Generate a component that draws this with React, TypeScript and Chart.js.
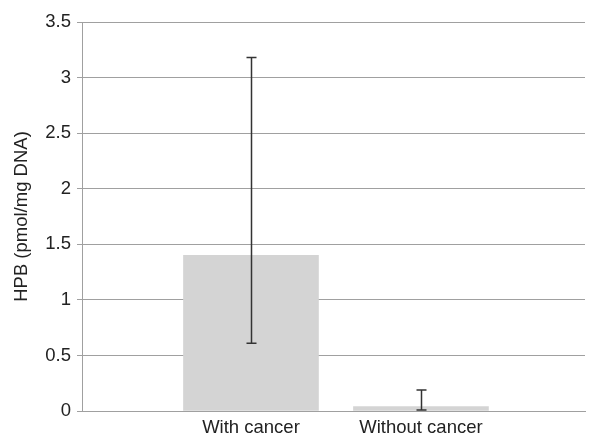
import React, { useEffect, useRef } from "react";
import { Chart, registerables } from "chart.js";

Chart.register(...registerables);

const categories = ["With cancer", "Without cancer"];
const means = [1.4, 0.04];
const errLow = [0.61, 0.01];
const errHigh = [3.18, 0.19];
const yTicks = [0, 0.5, 1, 1.5, 2, 2.5, 3, 3.5];

const FONT = "Liberation Sans, Arial, Helvetica";

const errorBarPlugin = {
  id: "errorBars",
  afterDatasetsDraw(chart: any) {
    const ctx = chart.ctx;
    const xs = chart.scales.x;
    const ys = chart.scales.y;
    ctx.save();
    ctx.strokeStyle = "#333";
    ctx.lineWidth = 1.5;
    for (let i = 0; i < categories.length; i++) {
      const x = Math.round(xs.getPixelForValue(i)) + 0.5;
      const y1 = ys.getPixelForValue(errLow[i]);
      const y2 = ys.getPixelForValue(errHigh[i]);
      ctx.beginPath();
      ctx.moveTo(x, y1);
      ctx.lineTo(x, y2);
      ctx.moveTo(x - 5, y1);
      ctx.lineTo(x + 5, y1);
      ctx.moveTo(x - 5, y2);
      ctx.lineTo(x + 5, y2);
      ctx.stroke();
    }
    ctx.restore();
  },
};

export default function App() {
  const ref = useRef<HTMLCanvasElement | null>(null);
  useEffect(() => {
    document.body.style.margin = "0";
    const chart = new Chart(ref.current!, {
      type: "bar",
      data: {
        datasets: [
          {
            data: means.map((v, i) => ({ x: i, y: v })) as any,
            backgroundColor: "#d4d4d4",
            barThickness: 135,
          },
        ],
      },
      options: {
        animation: false,
        responsive: false,
        maintainAspectRatio: false,
        layout: { padding: { top: 22, right: 5, left: 0, bottom: 0 } },
        plugins: { legend: { display: false }, tooltip: { enabled: false } },
        scales: {
          x: {
            type: "linear",
            min: -0.994,
            max: 1.965,
            offset: false,
            afterBuildTicks: (s: any) => {
              s.ticks = categories.map((_, i) => ({ value: i }));
            },
            grid: { display: false, drawTicks: false },
            border: { color: "#a0a0a0", width: 1 },
            ticks: {
              color: "#222",
              font: { family: FONT, size: 18.5 },
              padding: 6,
              maxRotation: 0,
              autoSkip: false,
              callback: (v: any) => categories[v as number] ?? "",
            },
            afterFit: (s: any) => {
              s.height = 26;
            },
          },
          y: {
            min: 0,
            max: 3.5,
            afterBuildTicks: (s: any) => {
              s.ticks = yTicks.map((v) => ({ value: v }));
            },
            grid: { color: "#a0a0a0", tickLength: 5, lineWidth: 1 },
            border: { color: "#a0a0a0", width: 1 },
            ticks: {
              color: "#222",
              font: { family: FONT, size: 18.5 },
              padding: 6,
              callback: (v: any) => String(v),
            },
            title: {
              display: true,
              text: "HPB (pmol/mg DNA)",
              color: "#222",
              font: { family: FONT, size: 18.5 },
              padding: { top: 11, bottom: 0 },
            },
            afterFit: (s: any) => {
              s.width = 82;
            },
          },
        },
      },
      plugins: [errorBarPlugin],
    });
    return () => chart.destroy();
  }, []);
  return (
    <div style={{ width: 590, height: 437 }}>
      <canvas ref={ref} width={590} height={437} style={{ width: 590, height: 437 }} />
    </div>
  );
}
